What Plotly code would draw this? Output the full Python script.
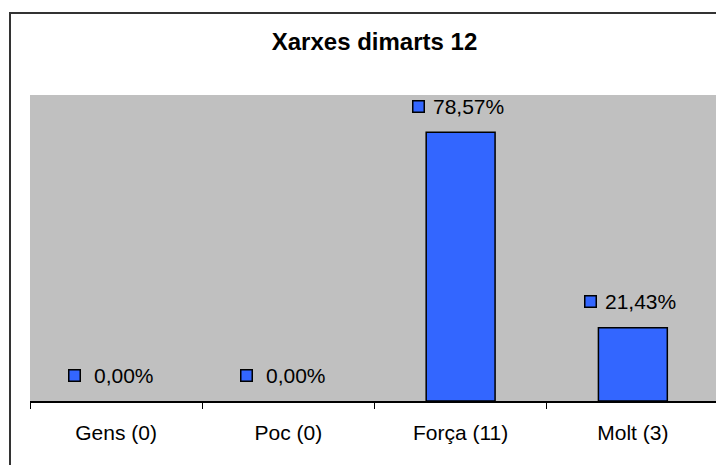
import plotly.graph_objects as go

categories = ["Gens (0)", "Poc (0)", "Força (11)", "Molt (3)"]
values = [0.0, 0.0, 78.57, 21.43]
labels = ["0,00%", "0,00%", "78,57%", "21,43%"]

BAR = "#3366FF"
FONT = "Liberation Sans, Arial, sans-serif"

# the page body has an 8px margin, so the figure is drawn at (8, 8)
W, H = 716, 457

fig = go.Figure()
fig.add_trace(go.Bar(
    x=categories, y=values, width=0.4,
    marker=dict(color=BAR, line=dict(color="black",
                                     width=[1.5 if v > 0 else 0 for v in values])),
    hoverinfo="skip",
))

annotations = []
for c, v, t in zip(categories, values, labels):
    annotations.append(dict(
        x=c, y=v, xref="x", yref="y", text=t, showarrow=False,
        xanchor="center", yanchor="middle", xshift=8, yshift=26,
        font=dict(family=FONT, size=21, color="black"),
    ))
    annotations.append(dict(
        x=c, y=v, xref="x", yref="y", text=" ", showarrow=False,
        xanchor="center", yanchor="middle", xshift=-42, yshift=26,
        width=10, height=10, bgcolor=BAR, bordercolor="black",
        borderwidth=1.5, borderpad=0, font=dict(size=4),
    ))

fig.update_layout(
    width=W, height=H,
    margin=dict(l=22, r=5, t=87, b=64),
    paper_bgcolor="white", plot_bgcolor="#C0C0C0",
    showlegend=False,
    title=dict(text="<b>Xarxes dimarts 12</b>", x=0.5, xref="paper", xanchor="center",
               y=1 - 34 / H, yanchor="middle",
               font=dict(family=FONT, size=24, color="black")),
    annotations=annotations,
    shapes=[dict(type="rect", xref="paper", yref="paper",
                 x0=-20 / 689, x1=1.2, y0=-0.5, y1=388 / 306,
                 line=dict(color="#333333", width=2), layer="below")],
)
fig.update_xaxes(
    type="category", showline=True, linecolor="black", linewidth=1.5,
    ticks="outside", ticklen=6, tickcolor="black", tickwidth=1,
    tickson="boundaries", showgrid=False, zeroline=False,
    tickfont=dict(family=FONT, size=21, color="black"),
    ticklabelstandoff=12,
)
fig.update_yaxes(range=[0, 89.5], visible=False, showgrid=False, zeroline=False)

fig.write_html("out.html")
